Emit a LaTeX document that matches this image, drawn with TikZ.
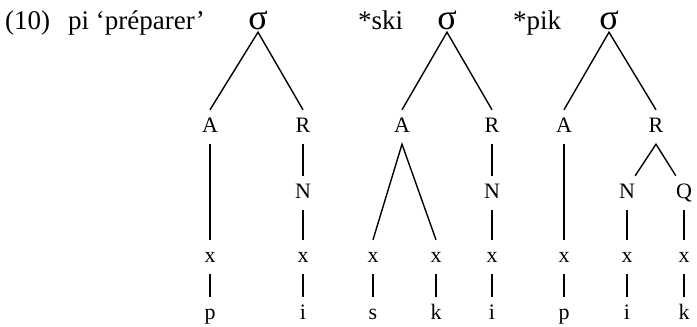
\documentclass[tikz,border=0pt]{standalone}
\usepackage{fontspec}
\setmainfont{Liberation Serif}
\usepackage{tikz}
\usetikzlibrary{positioning}

\begin{document}
\begin{tikzpicture}[
x=1pt, y=-1pt,
head/.style={anchor=base west, inner sep=0pt, font=\fontsize{27}{27}\selectfont},
sig/.style={inner sep=0pt, minimum height=24pt, font=\fontsize{36}{36}\selectfont},
lab/.style={inner sep=0pt, minimum height=34pt, text height=10pt, text depth=0pt, font=\fontsize{22}{22}\selectfont},
edge/.style={line width=1.4pt}
]
\useasboundingbox (0,0) rectangle (697,327);

% Headings
\node[head] (num) at (5,29) {(10)};
\node[head] (gloss) at (68,29) {pi `préparer'};
\node[head] (ski) at (358,29) {*ski};
\node[head] (pik) at (513,29) {*pik};

% Syllables
\node[sig] (s1) at (258,20) {σ};
\node[sig] (s2) at (447,20) {σ};
\node[sig] (s3) at (609,20) {σ};

% pi
\node[lab] (a1) at (210,127) {A};
\node[lab] (r1) at (303,127) {R};
\node[lab] (n1) at (303,193) {N};
\node[lab] (xa1) at (210,257) {x};
\node[lab] (xr1) at (303,257) {x};
\node[lab] (p1) at (210,314) {p};
\node[lab] (i1) at (303,314) {i};

\draw[edge] (a1.north) -- (s1.south) -- (r1.north);
\draw[edge] (a1) -- (xa1);
\draw[edge] (xa1) -- (p1);
\draw[edge] (r1) -- (n1);
\draw[edge] (n1) -- (xr1);
\draw[edge] (xr1) -- (i1);

% *ski
\node[lab] (a2) at (402,127) {A};
\node[lab] (r2) at (492,127) {R};
\node[lab] (n2) at (492,193) {N};
\node[lab] (xs2) at (373,257) {x};
\node[lab] (xk2) at (436,257) {x};
\node[lab] (xr2) at (492,257) {x};
\node[lab] (s2b) at (373,314) {s};
\node[lab] (k2) at (436,314) {k};
\node[lab] (i2) at (492,314) {i};

\draw[edge] (a2.north) -- (s2.south) -- (r2.north);
\draw[edge] (xs2.north) -- (a2.south) -- (xk2.north);
\draw[edge] (xs2) -- (s2b);
\draw[edge] (xk2) -- (k2);
\draw[edge] (r2) -- (n2);
\draw[edge] (n2) -- (xr2);
\draw[edge] (xr2) -- (i2);

% *pik
\node[lab] (a3) at (564,127) {A};
\node[lab] (r3) at (656,127) {R};
\node[lab] (n3) at (627,193) {N};
\node[lab] (q3) at (684,193) {Q};
\node[lab] (xa3) at (564,257) {x};
\node[lab] (xn3) at (627,257) {x};
\node[lab] (xq3) at (684,257) {x};
\node[lab] (p3) at (564,314) {p};
\node[lab] (i3) at (627,314) {i};
\node[lab] (k3) at (684,314) {k};

\draw[edge] (a3.north) -- (s3.south) -- (r3.north);
\draw[edge] (n3.north east) -- (r3.south) -- (q3.north west);
\draw[edge] (a3) -- (xa3);
\draw[edge] (xa3) -- (p3);
\draw[edge] (n3) -- (xn3);
\draw[edge] (xn3) -- (i3);
\draw[edge] (q3) -- (xq3);
\draw[edge] (xq3) -- (k3);

\end{tikzpicture}
\end{document}
